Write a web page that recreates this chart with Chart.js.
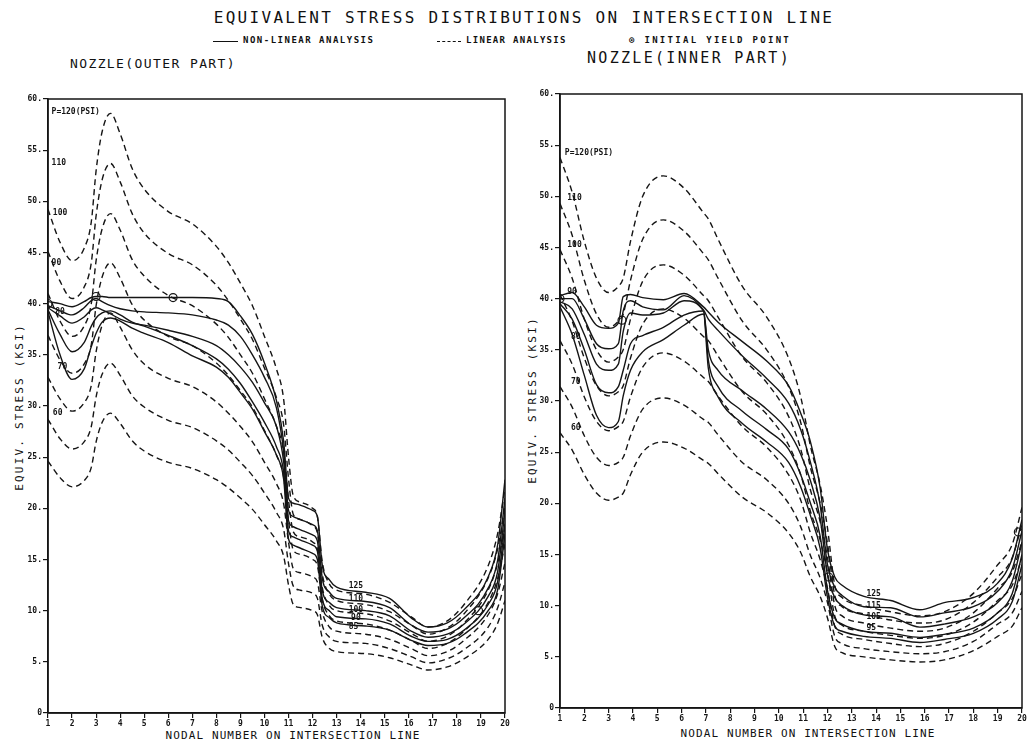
<!DOCTYPE html>
<html>
<head>
<meta charset="utf-8">
<script src="https://cdn.jsdelivr.net/npm/chart.js@4"></script>
<style>
  body { margin: 0; width: 1034px; height: 744px; background: #fff; position: relative; overflow: hidden;
         font-family: "DejaVu Sans Mono", monospace; color: #111; }
  canvas { position: absolute; top: 0; }
  .txt { position: absolute; white-space: nowrap; transform: translate(-50%, -50%); }
  .vert { position: absolute; white-space: nowrap; transform: translate(-50%, -50%) rotate(-90deg); }
  .leg { position: absolute; top: 35px; font-size: 9px; font-weight: bold; white-space: nowrap; }
</style>
</head>
<body>
<div class="txt" style="left:524px;top:17px;font-size:16px;letter-spacing:2.3px">EQUIVALENT STRESS DISTRIBUTIONS ON INTERSECTION LINE</div>

<div class="leg" style="left:213px;width:25px;top:41px;border-top:1.5px solid #111"></div>
<div class="leg" style="left:243px;letter-spacing:1.5px">NON-LINEAR ANALYSIS</div>
<div class="leg" style="left:437px;width:24px;top:41px;border-top:1.5px dashed #111"></div>
<div class="leg" style="left:466px;letter-spacing:1.3px">LINEAR ANALYSIS</div>
<div class="leg" style="left:629px;letter-spacing:2.3px">&#8857; INITIAL YIELD POINT</div>

<div class="txt" style="left:153px;top:63px;font-size:13px;letter-spacing:1.4px">NOZZLE(OUTER PART)</div>
<div class="txt" style="left:689px;top:58px;font-size:15px;letter-spacing:2.3px">NOZZLE(INNER PART)</div>

<div class="vert" style="left:19px;top:407px;font-size:11px;letter-spacing:2.2px">EQUIV. STRESS (KSI)</div>
<div class="vert" style="left:532px;top:400px;font-size:11px;letter-spacing:2.2px">EQUIV. STRESS (KSI)</div>
<div class="txt" style="left:293px;top:735px;font-size:11px;letter-spacing:1.1px">NODAL NUMBER ON INTERSECTION LINE</div>
<div class="txt" style="left:808px;top:733px;font-size:11px;letter-spacing:1.1px">NODAL NUMBER ON INTERSECTION LINE</div>

<canvas id="outerChart" width="517" height="744" style="left:0"></canvas>
<canvas id="innerChart" width="517" height="744" style="left:517px"></canvas>

<script>
// ---- nozzle outer part ----
var outerNodes = [1, 1.5, 2, 2.5, 2.8, 3, 3.25, 3.6, 4, 4.5, 5, 6, 7, 8, 8.5, 9, 9.5, 10, 10.5, 10.8,
                  11, 11.2, 11.5, 12, 12.2, 12.4, 12.7, 13, 14.2, 15.2, 16.1, 16.8, 17.6, 18.3, 19.3, 19.7, 20];

var outerLin60 = [24.6, 23.0, 22.1, 22.7, 24.0, 26.5, 28.4, 29.3, 28.3, 26.6, 25.6, 24.5, 23.9, 22.8, 22.0, 21.0, 19.9, 18.4, 16.8, 15.3,
                  12.5, 10.6, 10.3, 10.0, 9.6, 7.4, 6.3, 6.0, 5.8, 5.4, 4.7, 4.2, 4.5, 5.3, 7.2, 8.8, 11.0];
var outerLin70 = [28.7, 26.8, 25.8, 26.5, 28.0, 30.9, 33.1, 34.2, 33.0, 31.0, 29.9, 28.6, 27.9, 26.6, 25.7, 24.5, 23.2, 21.5, 19.6, 17.9,
                  14.6, 12.4, 12.0, 11.7, 11.2, 8.6, 7.4, 7.0, 6.8, 6.3, 5.5, 4.9, 5.3, 6.2, 8.4, 10.3, 12.8];
var outerLin80 = [32.8, 30.7, 29.5, 30.3, 32.0, 35.3, 37.9, 39.1, 37.7, 35.5, 34.1, 32.7, 31.9, 30.4, 29.3, 28.0, 26.5, 24.5, 22.4, 20.4,
                  16.7, 14.1, 13.7, 13.3, 12.8, 9.9, 8.4, 8.0, 7.7, 7.2, 6.3, 5.6, 6.0, 7.1, 9.6, 11.7, 14.7];
var outerLin90 = [36.9, 34.5, 33.2, 34.1, 36.0, 39.8, 42.6, 44.0, 42.5, 39.9, 38.4, 36.8, 35.9, 34.2, 33.0, 31.5, 29.9, 27.6, 25.2, 23.0,
                  18.8, 15.9, 15.5, 15.0, 14.4, 11.1, 9.5, 9.0, 8.7, 8.1, 7.1, 6.3, 6.8, 8.0, 10.8, 13.2, 16.5];
var outerLin100 = [41.0, 38.3, 36.8, 37.8, 40.0, 44.2, 47.3, 48.8, 47.2, 44.3, 42.7, 40.8, 39.8, 38.0, 36.7, 35.0, 33.2, 30.7, 28.0, 25.5,
                   20.8, 17.7, 17.2, 16.7, 16.0, 12.3, 10.5, 10.0, 9.7, 9.0, 7.8, 7.0, 7.5, 8.8, 12.0, 14.7, 18.3];
var outerLin110 = [45.1, 42.2, 40.5, 41.6, 44.0, 48.6, 52.1, 53.7, 51.9, 48.8, 46.9, 44.9, 43.8, 41.8, 40.3, 38.5, 36.5, 33.7, 30.8, 28.1,
                   22.9, 19.4, 18.9, 18.3, 17.6, 13.6, 11.6, 11.0, 10.6, 9.9, 8.6, 7.7, 8.3, 9.7, 13.2, 16.1, 20.2];
var outerLin120 = [49.2, 46.0, 44.2, 45.4, 48.0, 53.0, 56.8, 58.6, 56.6, 53.2, 51.2, 49.0, 47.8, 45.6, 44.0, 42.0, 39.8, 36.8, 33.6, 30.6,
                   25.0, 21.2, 20.6, 20.0, 19.2, 14.8, 12.6, 12.0, 11.6, 10.8, 9.4, 8.4, 9.0, 10.6, 14.4, 17.6, 22.0];

var outerNon125 = [40.2, 40.0, 39.7, 40.2, 40.6, 40.7, 40.7, 40.6, 40.6, 40.6, 40.6, 40.6, 40.6, 40.5, 40.2, 38.8, 37.0, 34.2, 30.5, 26.5,
                   21.0, 20.5, 20.3, 19.8, 19.2, 14.5, 13.0, 12.3, 11.8, 11.2, 9.3, 8.4, 8.8, 10.1, 13.3, 16.5, 22.8];
var outerNon110 = [39.8, 39.3, 38.9, 39.6, 40.3, 40.5, 40.2, 39.8, 39.5, 39.3, 39.2, 39.1, 38.9, 38.4, 37.9, 36.8, 35.0, 32.8, 29.8, 25.5,
                   19.8, 19.2, 18.9, 18.4, 17.8, 13.2, 11.8, 11.2, 10.9, 10.3, 8.6, 7.9, 8.2, 9.3, 12.2, 15.0, 21.0];
var outerNon100 = [39.6, 38.8, 38.1, 38.7, 39.4, 39.6, 39.4, 39.0, 38.5, 38.1, 37.9, 37.4, 36.8, 35.9, 35.0, 33.8, 32.3, 30.3, 28.0, 24.5,
                   18.8, 18.2, 17.9, 17.4, 16.8, 12.0, 10.8, 10.3, 10.0, 9.5, 8.0, 7.4, 7.7, 8.7, 11.4, 13.9, 19.8];
var outerNon90 = [39.4, 37.0, 35.3, 36.2, 37.8, 38.6, 39.1, 39.3, 38.9, 38.2, 37.8, 36.9, 35.9, 34.6, 33.6, 32.2, 30.4, 28.4, 26.0, 23.5,
                  17.8, 17.2, 16.9, 16.4, 15.8, 11.2, 10.0, 9.4, 9.2, 8.7, 7.5, 7.0, 7.2, 8.1, 10.6, 12.9, 18.5];
var outerNon85 = [39.2, 35.0, 32.6, 33.6, 35.8, 37.1, 38.2, 38.6, 38.3, 37.6, 37.1, 36.2, 34.9, 33.8, 32.8, 31.3, 29.7, 27.5, 25.2, 22.8,
                  17.0, 16.4, 16.1, 15.6, 15.0, 10.5, 9.3, 8.8, 8.5, 8.1, 7.1, 6.6, 6.8, 7.7, 10.0, 12.1, 17.5];

var outerYieldX = [1, 3.0, 6.2, 18.9];
var outerYieldY = [40, 40.7, 40.6, 10.0];

// ---- nozzle inner part ----
var innerNodes = [1, 1.5, 2, 2.5, 3, 3.4, 3.6, 3.9, 4.4, 5.25, 6.1, 6.9, 7.1, 7.5, 8.5, 9.5, 10.4, 10.9, 11.3, 11.7,
                  12, 12.3, 12.6, 13.5, 14.6, 15.8, 16.8, 18, 19, 19.6, 20];

var innerLin60 = [26.9, 25.2, 22.8, 21.0, 20.3, 20.6, 21.0, 22.8, 25.0, 26.0, 25.4, 24.2, 23.9, 22.9, 20.6, 19.1, 17.1, 15.2, 12.8, 10.9,
                  8.8, 6.0, 5.4, 5.0, 4.7, 4.5, 4.7, 5.6, 7.0, 8.0, 9.8];
var innerLin70 = [31.4, 29.4, 26.6, 24.5, 23.7, 24.0, 24.5, 26.6, 29.2, 30.3, 29.6, 28.2, 27.9, 26.7, 24.0, 22.3, 20.0, 17.7, 14.9, 12.7,
                  10.3, 7.0, 6.3, 5.8, 5.5, 5.3, 5.5, 6.5, 8.2, 9.3, 11.4];
var innerLin80 = [35.9, 33.6, 30.4, 28.0, 27.1, 27.5, 28.0, 30.4, 33.3, 34.7, 33.9, 32.3, 31.9, 30.5, 27.5, 25.5, 22.8, 20.3, 17.1, 14.5,
                  11.7, 8.0, 7.2, 6.7, 6.3, 6.0, 6.3, 7.5, 9.3, 10.7, 13.1];
var innerLin90 = [40.4, 37.8, 34.2, 31.5, 30.5, 30.9, 31.5, 34.2, 37.5, 39.0, 38.1, 36.3, 35.9, 34.4, 30.9, 28.7, 25.7, 22.8, 19.2, 16.4,
                  13.2, 9.0, 8.1, 7.5, 7.1, 6.8, 7.1, 8.4, 10.5, 12.0, 14.7];
var innerLin100 = [44.8, 42.0, 38.0, 35.0, 33.8, 34.3, 35.0, 38.0, 41.7, 43.3, 42.3, 40.3, 39.8, 38.2, 34.3, 31.8, 28.5, 25.3, 21.3, 18.2,
                   14.7, 10.0, 9.0, 8.3, 7.8, 7.5, 7.8, 9.3, 11.7, 13.3, 16.3];
var innerLin110 = [49.3, 46.2, 41.8, 38.5, 37.2, 37.8, 38.5, 41.8, 45.8, 47.7, 46.6, 44.4, 43.8, 42.0, 37.8, 35.0, 31.4, 27.9, 23.5, 20.0,
                   16.1, 11.0, 9.9, 9.2, 8.6, 8.3, 8.6, 10.3, 12.8, 14.7, 18.0];
var innerLin120 = [53.8, 50.4, 45.6, 42.0, 40.6, 41.2, 42.0, 45.6, 50.0, 52.0, 50.8, 48.4, 47.8, 45.8, 41.2, 38.2, 34.2, 30.4, 25.6, 21.8,
                   17.6, 12.0, 10.8, 10.0, 9.4, 9.0, 9.4, 11.2, 14.0, 16.0, 19.6];

var innerNon125 = [40.3, 40.6, 39.2, 37.4, 37.1, 37.6, 40.2, 40.4, 40.1, 39.9, 40.5, 39.2, 38.7, 37.7, 35.8, 33.9, 31.5, 28.8, 26.0, 21.5,
                   15.5, 12.8, 12.0, 10.9, 10.5, 9.6, 10.3, 10.8, 12.2, 14.6, 18.4];
var innerNon115 = [40.0, 40.0, 38.0, 35.6, 35.1, 35.6, 38.8, 39.8, 39.2, 38.9, 40.3, 38.9, 38.0, 36.9, 34.4, 32.2, 29.8, 27.2, 24.0, 19.8,
                   14.0, 11.8, 11.0, 9.9, 9.8, 8.9, 9.3, 9.9, 11.4, 13.6, 17.3];
var innerNon105 = [39.7, 39.0, 36.5, 33.6, 33.0, 33.6, 36.8, 38.6, 38.4, 38.6, 39.8, 38.8, 35.0, 33.0, 31.0, 29.2, 27.0, 24.8, 22.2, 18.5,
                   13.0, 10.8, 10.0, 9.1, 8.9, 7.9, 8.2, 8.9, 10.3, 12.4, 16.2];
var innerNon95 = [39.5, 38.0, 35.0, 31.6, 30.8, 31.4, 33.0, 35.6, 36.4, 37.2, 38.4, 38.8, 34.0, 31.4, 29.0, 27.2, 25.3, 22.8, 20.0, 16.8,
                  11.5, 8.8, 8.2, 7.5, 7.3, 6.9, 7.2, 7.8, 9.3, 11.2, 15.0];
var innerNon85 = [39.2, 36.5, 32.5, 28.6, 27.4, 28.0, 30.5, 33.0, 34.8, 36.0, 37.4, 38.5, 33.2, 30.4, 27.8, 26.0, 24.0, 21.6, 18.8, 15.6,
                  10.8, 8.0, 7.5, 7.0, 6.8, 6.4, 6.7, 7.3, 8.7, 10.4, 14.0];

var innerYieldX = [1, 3.55, 12.05, 19.85];
var innerYieldY = [40, 37.9, 12.8, 17.2];

var ink = "#151515";

function curve(nodes, values, dashed) {
  return {
    data: nodes.map(function (n, i) { return { x: n, y: values[i] }; }),
    borderColor: ink,
    borderWidth: 1.4,
    borderDash: dashed ? [6, 4] : [],
    pointRadius: 0,
    fill: false,
    cubicInterpolationMode: "monotone",
  };
}

function yieldMarks(xs, ys) {
  return {
    data: xs.map(function (x, i) { return { x: x, y: ys[i] }; }),
    showLine: false,
    pointRadius: 4,
    pointStyle: "circle",
    pointBorderWidth: 1.2,
    pointBorderColor: ink,
    pointBackgroundColor: "rgba(255,255,255,0)",
  };
}

var framePlugin = {
  id: "frame",
  afterDatasetsDraw: function (chart) {
    var a = chart.chartArea, ctx = chart.ctx;
    ctx.save();
    ctx.strokeStyle = ink;
    ctx.lineWidth = 1.5;
    ctx.strokeRect(a.left, a.top, a.right - a.left, a.bottom - a.top);
    ctx.restore();
  },
};

function labelPlugin(items) {
  return {
    id: "curveLabels",
    afterDatasetsDraw: function (chart) {
      var ctx = chart.ctx, xs = chart.scales.x, ys = chart.scales.y;
      ctx.save();
      ctx.fillStyle = ink;
      ctx.font = 'bold 8px "DejaVu Sans Mono"';
      ctx.textBaseline = "middle";
      items.forEach(function (l) {
        ctx.fillText(l[0], xs.getPixelForValue(l[1]), ys.getPixelForValue(l[2]));
      });
      ctx.restore();
    },
  };
}

function makeChart(id, nodes, lin, non, yx, yy, labels, pad) {
  var datasets = [];
  lin.forEach(function (v) { datasets.push(curve(nodes, v, true)); });
  non.forEach(function (v) { datasets.push(curve(nodes, v, false)); });
  datasets.push(yieldMarks(yx, yy));

  return new Chart(document.getElementById(id).getContext("2d"), {
    type: "line",
    data: { datasets: datasets },
    options: {
      responsive: false,
      animation: false,
      layout: { padding: pad },
      plugins: { legend: { display: false }, tooltip: { enabled: false } },
      scales: {
        x: {
          type: "linear",
          min: 1,
          max: 20,
          afterFit: function (s) { s.height = 20; },
          ticks: { stepSize: 1, color: ink, padding: 1, maxRotation: 0,
                   font: { family: "DejaVu Sans Mono", size: 8, weight: "bold" } },
          grid: { drawOnChartArea: false, tickLength: 5, color: ink, lineWidth: 1.2 },
          border: { display: true, color: ink, width: 1.5 },
        },
        y: {
          min: 0,
          max: 60,
          afterFit: function (s) { s.width = 40; },
          ticks: { stepSize: 5, color: ink, padding: 1,
                   font: { family: "DejaVu Sans Mono", size: 8, weight: "bold" },
                   callback: function (v) { return v === 0 ? "0" : v + "."; } },
          grid: { drawOnChartArea: false, tickLength: 5, color: ink, lineWidth: 1.2 },
          border: { display: true, color: ink, width: 1.5 },
        },
      },
    },
    plugins: [framePlugin, labelPlugin(labels)],
  });
}

var outerLabels = [
  ["P=120(PSI)", 1.15, 58.7], ["110", 1.15, 53.8], ["100", 1.2, 48.9], ["90", 1.15, 44.0],
  ["80", 1.3, 39.2], ["70", 1.4, 33.8], ["60", 1.2, 29.3],
  ["125", 13.5, 12.4], ["110", 13.5, 11.1], ["100", 13.5, 10.1], ["90", 13.6, 9.3], ["85", 13.5, 8.4],
];
var innerLabels = [
  ["P=120(PSI)", 1.2, 54.2], ["110", 1.3, 49.8], ["100", 1.3, 45.3], ["90", 1.3, 40.7],
  ["80", 1.45, 36.3], ["70", 1.45, 31.9], ["60", 1.45, 27.4],
  ["125", 13.6, 11.1], ["115", 13.6, 10.0], ["105", 13.6, 8.9], ["95", 13.6, 7.8],
];

makeChart("outerChart", outerNodes,
  [outerLin60, outerLin70, outerLin80, outerLin90, outerLin100, outerLin110, outerLin120],
  [outerNon125, outerNon110, outerNon100, outerNon90, outerNon85],
  outerYieldX, outerYieldY, outerLabels,
  { left: 8, right: 12, top: 99, bottom: 11 });

makeChart("innerChart", innerNodes,
  [innerLin60, innerLin70, innerLin80, innerLin90, innerLin100, innerLin110, innerLin120],
  [innerNon125, innerNon115, innerNon105, innerNon95, innerNon85],
  innerYieldX, innerYieldY, innerLabels,
  { left: 3, right: 12, top: 94, bottom: 16 });
</script>
</body>
</html>
